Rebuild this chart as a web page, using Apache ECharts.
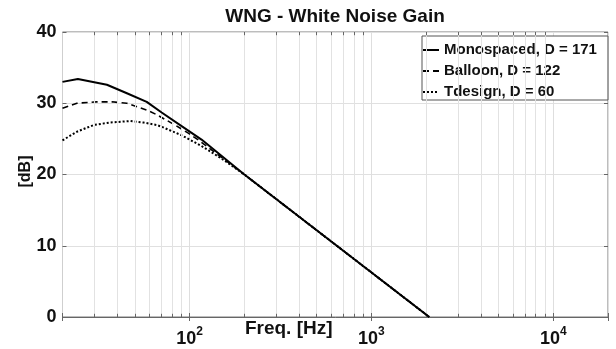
<!DOCTYPE html>
<html>
<head>
<meta charset="utf-8">
<script src="https://cdn.jsdelivr.net/npm/echarts@6/dist/echarts.min.js"></script>
<style>
html,body{margin:0;padding:0;background:#fff;}
#chart{width:616px;height:349px;}
</style>
</head>
<body>
<div id="chart"></div>
<script>
// ---- data ----
var titleText = 'WNG - White Noise Gain';
var xName = 'Freq. [Hz]';
var yName = '[dB]';
var seriesNames = ['Monospaced, D = 171', 'Balloon, D = 122', 'Tdesign, D = 60'];

var freqMono = [20, 24.3, 35.1, 45.2, 58.1, 70.2, 90.4, 116.3, 200, 2080];
var dbMono   = [33.0, 33.4, 32.6, 31.4, 30.2, 28.7, 26.8, 24.9, 20.0, 0];

var freqBalloon = [20, 24.0, 30.9, 37.4, 45.2, 58.1, 65.9, 83.1, 98.4, 111.6, 200, 2080];
var dbBalloon   = [29.3, 30.0, 30.2, 30.2, 30.0, 29.05, 28.4, 26.95, 25.8, 24.85, 20.0, 0];

var freqTdesign = [20, 24.0, 29.7, 36.6, 47.1, 55.8, 65.9, 70.2, 90.4, 116.3, 149.7, 200, 2080];
var dbTdesign   = [24.8, 26.0, 26.95, 27.3, 27.5, 27.3, 26.95, 26.7, 25.5, 24.0, 22.25, 20.0, 0];

var minorGridFreqs = [30, 40, 50, 60, 70, 80, 90,
                      200, 300, 400, 500, 600, 700, 800, 900,
                      2000, 3000, 4000, 5000, 6000, 7000, 8000, 9000];
var xMin = 20, xMax = 20000;
var yMin = 0, yMax = 40, yStep = 10;
var minorTickLen = 0.45; // in dB units

function pairs(xs, ys) { return xs.map(function (x, i) { return [x, ys[i]]; }); }

var FONT = 'Liberation Sans, Arial, sans-serif';
var chart = echarts.init(document.getElementById('chart'), null, {renderer: 'canvas'});

var minorTickLines = [];
minorGridFreqs.forEach(function (f) {
  minorTickLines.push([{coord: [f, yMin]}, {coord: [f, yMin + minorTickLen]}]);
  minorTickLines.push([{coord: [f, yMax]}, {coord: [f, yMax - minorTickLen]}]);
});

chart.setOption({
  animation: false,
  backgroundColor: '#fff',
  title: {
    text: titleText,
    left: 335, textAlign: 'center',
    top: 7,
    padding: 0,
    textStyle: {fontFamily: FONT, fontSize: 19, fontWeight: 'bold', color: '#111', lineHeight: 20}
  },
  grid: {
    left: 62.5, right: 8, top: 32, bottom: 32,
    outerBoundsMode: 'none',
    containLabel: false,
    show: true, borderColor: '#7a7a7a', borderWidth: 1
  },
  legend: {
    data: seriesNames,
    orient: 'vertical',
    left: 422, top: 36,
    padding: [6, 11, 0, 0],
    itemWidth: 16, itemHeight: 14, itemGap: 5,
    itemStyle: {opacity: 0},
    backgroundColor: '#fff',
    borderColor: '#555', borderWidth: 1,
    textStyle: {fontFamily: FONT, fontSize: 15, fontWeight: 'bold', color: '#111', lineHeight: 16}
  },
  xAxis: [{
    type: 'log', logBase: 10, min: xMin, max: xMax,
    name: xName, nameLocation: 'middle', nameGap: 2,
    nameMoveOverlap: false,
    nameTextStyle: {fontFamily: FONT, fontSize: 19, fontWeight: 'bold', color: '#111',
                    lineHeight: 20, padding: [0, 93, 0, 0]},
    axisLine: {show: true, lineStyle: {color: '#666', width: 1}},
    axisTick: {show: true, inside: true, length: 4, lineStyle: {color: '#666'}},
    splitLine: {show: true, lineStyle: {color: '#dedede', width: 1}},
    axisLabel: {
      margin: 9,
      formatter: function (v) {
        var e = Math.round(Math.log10(v));
        if (Math.abs(v - Math.pow(10, e)) < 1e-6 * v) return '{b|10}{s|' + e + '}';
        return '';
      },
      rich: {
        b: {fontFamily: FONT, fontSize: 18, fontWeight: 'bold', color: '#111', lineHeight: 22, verticalAlign: 'bottom'},
        s: {fontFamily: FONT, fontSize: 12, fontWeight: 'bold', color: '#111', lineHeight: 12, verticalAlign: 'top'}
      }
    }
  }, {
    type: 'log', logBase: 10, min: xMin, max: xMax, position: 'top',
    axisLine: {show: false},
    axisTick: {show: true, inside: true, length: 4, lineStyle: {color: '#666'}},
    axisLabel: {show: false},
    splitLine: {show: false}
  }],
  yAxis: [{
    type: 'value', min: yMin, max: yMax, interval: yStep,
    name: yName, nameLocation: 'middle', nameGap: 29,
    nameMoveOverlap: false,
    nameTextStyle: {fontFamily: FONT, fontSize: 16, fontWeight: 'bold', color: '#111', padding: [0, 0, 0, 6]},
    axisLine: {show: true, lineStyle: {color: '#cfcfcf', width: 1}},
    axisTick: {show: true, inside: true, length: 4, lineStyle: {color: '#666'}},
    splitLine: {show: true, lineStyle: {color: '#e0e0e0', width: 1}},
    axisLabel: {margin: 6, fontFamily: FONT, fontSize: 18, fontWeight: 'bold', color: '#111'}
  }, {
    type: 'value', min: yMin, max: yMax, interval: yStep, position: 'right',
    axisLine: {show: false},
    axisTick: {show: true, inside: true, length: 4, lineStyle: {color: '#666'}},
    axisLabel: {show: false},
    splitLine: {show: false}
  }],
  series: [
    {
      name: 'grid-minor', type: 'line', data: [], z: 1, silent: true,
      markLine: {
        silent: true, symbol: 'none', animation: false,
        label: {show: false},
        lineStyle: {color: '#e2e2e2', width: 1, type: 'solid'},
        data: minorGridFreqs.map(function (f) { return {xAxis: f}; })
      }
    },
    {
      name: 'ticks-minor', type: 'line', data: [], z: 2, silent: true,
      markLine: {
        silent: true, symbol: 'none', animation: false,
        label: {show: false},
        lineStyle: {color: '#666', width: 1, type: 'solid'},
        data: minorTickLines
      }
    },
    {
      name: seriesNames[0], type: 'line', z: 5, showSymbol: false, symbol: 'none',
      lineStyle: {color: '#000', width: 2, type: 'solid'},
      itemStyle: {color: '#000'},
      data: pairs(freqMono, dbMono)
    },
    {
      name: seriesNames[1], type: 'line', z: 4, showSymbol: false, symbol: 'none',
      lineStyle: {color: '#000', width: 1.6, type: [6, 4]},
      itemStyle: {color: '#000'},
      data: pairs(freqBalloon, dbBalloon)
    },
    {
      name: seriesNames[2], type: 'line', z: 3, showSymbol: false, symbol: 'none',
      lineStyle: {color: '#000', width: 2, type: [2, 2]},
      itemStyle: {color: '#000'},
      data: pairs(freqTdesign, dbTdesign)
    }
  ]
});
</script>
</body>
</html>
